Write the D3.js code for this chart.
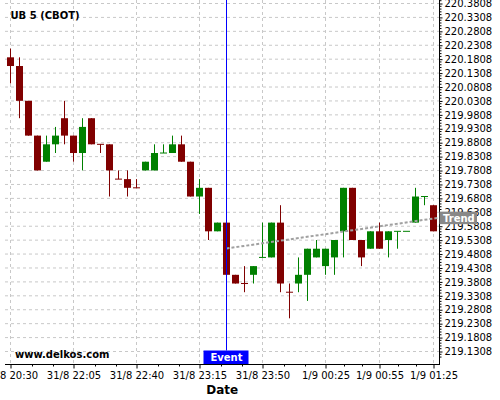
<!DOCTYPE html>
<html><head><meta charset="utf-8">
<script src="https://cdn.jsdelivr.net/npm/d3@7"></script>
<style>body{margin:0;background:#fff}svg{display:block}text{font-family:"DejaVu Sans",sans-serif}</style>
</head><body><svg id="c" width="500" height="400"></svg>
<script>
const times = ["31/8 20:30","31/8 21:35","31/8 21:40","31/8 21:45","31/8 21:50","31/8 21:55","31/8 22:00",
"31/8 22:05","31/8 22:10","31/8 22:15","31/8 22:20","31/8 22:25","31/8 22:30","31/8 22:35",
"31/8 22:40","31/8 22:45","31/8 22:50","31/8 22:55","31/8 23:00","31/8 23:05","31/8 23:10",
"31/8 23:15","31/8 23:20","31/8 23:25","31/8 23:30","31/8 23:35","31/8 23:40","31/8 23:45",
"31/8 23:50","31/8 23:55","1/9 00:00","1/9 00:05","1/9 00:10","1/9 00:15","1/9 00:20",
"1/9 00:25","1/9 00:30","1/9 00:35","1/9 00:40","1/9 00:45","1/9 00:50",
"1/9 00:55","1/9 01:00","1/9 01:05","1/9 01:10","1/9 01:15","1/9 01:20","1/9 01:25"];
const open = [220.1875,220.15625,220.03125,219.90625,219.8125,219.875,219.96875,219.90625,219.84375,219.96875,
219.875,219.875,219.75,219.75,219.71875,219.78125,219.78125,219.84375,219.84375,219.875,
219.8125,219.6875,219.71875,219.5625,219.59375,219.40625,219.375,219.40625,219.46875,219.46875,
219.59375,219.34375,219.375,219.40625,219.46875,219.4375,219.46875,219.5625,219.71875,219.53125,
219.5,219.5625,219.53125,219.5625,219.5625,219.59375,219.6875,219.65625];
const high = [220.21875,220.1875,220.03125,219.90625,219.90625,219.9375,220.03125,219.90625,219.96875,219.96875,
219.875,219.875,219.78125,219.78125,219.75,219.8125,219.875,219.875,219.90625,219.90625,
219.8125,219.75,219.71875,219.59375,219.59375,219.40625,219.4375,219.4375,219.59375,219.59375,
219.65625,219.375,219.46875,219.5,219.53125,219.5,219.53125,219.71875,219.71875,219.53125,
219.5625,219.59375,219.5625,219.5625,219.5625,219.71875,219.6875,219.65625];
const low = [220.09375,219.96875,219.90625,219.78125,219.8125,219.84375,219.875,219.8125,219.78125,219.875,
219.84375,219.6875,219.75,219.6875,219.71875,219.78125,219.78125,219.84375,219.84375,219.8125,
219.6875,219.625,219.53125,219.5625,219.40625,219.375,219.34375,219.375,219.46875,219.46875,
219.34375,219.25,219.34375,219.3125,219.46875,219.40625,219.40625,219.46875,219.53125,219.4375,
219.5,219.5,219.46875,219.5,219.5625,219.59375,219.65625,219.5625];
const close = [220.15625,220.03125,219.90625,219.78125,219.875,219.90625,219.90625,219.84375,219.9375,219.875,
219.875,219.78125,219.75,219.71875,219.71875,219.8125,219.84375,219.84375,219.875,219.8125,
219.6875,219.71875,219.5625,219.59375,219.40625,219.375,219.375,219.4375,219.46875,219.59375,
219.375,219.34375,219.40625,219.5,219.5,219.5,219.53125,219.71875,219.53125,219.46875,
219.5625,219.5,219.5625,219.5625,219.5625,219.6875,219.6875,219.5625];
const direction = ["d","d","d","d","u","u","d","d","u","d","d","d","d","d","d","u","u","u","u","d",
"d","u","d","u","d","d","d","u","u","u","d","d","u","u","u","u","u","u","d","d",
"u","d","u","u","u","u","u","d"];
const xTickLabels = ["31/8 20:30","31/8 22:05","31/8 22:40","31/8 23:15","31/8 23:50","1/9 00:25","1/9 00:55","1/9 01:25"];
const yTickValues = [219.1308,219.1808,219.2308,219.2808,219.3308,219.3808,219.4308,219.4808,219.5308,219.5808,
219.6308,219.6808,219.7308,219.7808,219.8308,219.8808,219.9308,219.9808,220.0308,220.0808,
220.1308,220.1808,220.2308,220.2808,220.3308,220.3808];
const eventTime = "31/8 23:30";
const trendTimes = ["31/8 23:30","1/9 01:25"];
const trendValues = [219.5008, 219.6085];
const titleText = "UB 5 (CBOT)";

const L = 5, R = 439.5, T = 0, B = 364;
const svg = d3.select("#c");
const x = d3.scalePoint().domain(times).range([10.5, 433.5]);
const y = d3.scaleLinear().domain([219.1308, 220.3808]).range([351.5, 3.5]);
const UP = "#008000", DOWN = "#800000";

// grid
const g = svg.append("g");
g.selectAll(".hg").data(yTickValues).enter().append("line")
  .attr("x1", L).attr("x2", R).attr("y1", d => y(d)).attr("y2", d => y(d))
  .attr("stroke", "#c8c8c8").attr("stroke-dasharray", "3,3");
g.selectAll(".vg").data(xTickLabels).enter().append("line")
  .attr("x1", d => x(d)).attr("x2", d => x(d)).attr("y1", T).attr("y2", B)
  .attr("stroke", "#c8c8c8").attr("stroke-dasharray", "3,3");

// candles
const data = times.map((t, i) => ({t, o: open[i], h: high[i], l: low[i], c: close[i], up: direction[i] === "u"}));
const cg = svg.append("g");
cg.selectAll(".wick").data(data).enter().append("line")
  .attr("x1", d => x(d.t)).attr("x2", d => x(d.t))
  .attr("y1", d => y(d.h)).attr("y2", d => y(d.l))
  .attr("stroke", d => d.up ? UP : DOWN).attr("stroke-width", 1);
cg.selectAll(".body").data(data).enter().append("rect")
  .attr("x", d => x(d.t) - 3.5).attr("width", 7)
  .attr("y", d => d.o === d.c ? y(d.o) - 0.5 : y(Math.max(d.o, d.c)))
  .attr("height", d => Math.max(1, Math.abs(y(d.o) - y(d.c))))
  .attr("fill", d => d.up ? UP : DOWN);

// trend
const x0 = x(trendTimes[0]), x1 = x(trendTimes[1]);
const y0 = y(trendValues[0]), y1 = y(trendValues[1]);
const slope = (y1 - y0) / (x1 - x0);
const yEnd = y1 + slope * (R - x1);
svg.append("line").attr("x1", x0).attr("y1", y0).attr("x2", R).attr("y2", yEnd)
  .attr("stroke", "#a0a0a0").attr("stroke-width", 2).attr("stroke-dasharray", "3,2");

// event
const ex = x(eventTime);
svg.append("line").attr("x1", ex).attr("x2", ex).attr("y1", T).attr("y2", 350.5)
  .attr("stroke", "#0000ff").attr("stroke-width", 1);

// axes
const ax = svg.append("g").attr("transform", `translate(0,${B + 0.5})`)
  .call(d3.axisBottom(x).tickValues(xTickLabels).tickSize(4).tickPadding(3.4));
ax.select(".domain").remove();
ax.selectAll("text").attr("font-size", 10).attr("font-family", "DejaVu Sans").attr("fill", "#000");
ax.selectAll("line").attr("stroke", "#000");
// minor x ticks
const minorX = [];
for (let k = 0; k < xTickLabels.length - 1; k++) {
  const a = x(xTickLabels[k]), b = x(xTickLabels[k + 1]);
  minorX.push(a + (b - a) / 3, a + 2 * (b - a) / 3);
}
svg.selectAll(".mx").data(minorX).enter().append("line")
  .attr("x1", d => Math.round(d) + 0.5).attr("x2", d => Math.round(d) + 0.5)
  .attr("y1", B + 0.5).attr("y2", B + 2.5).attr("stroke", "#000");

const ay = svg.append("g").attr("transform", `translate(${R},0)`)
  .call(d3.axisRight(y).tickValues(yTickValues).tickSize(3).tickPadding(2).tickFormat(d3.format(".4f")));
ay.select(".domain").remove();
ay.selectAll("text").attr("font-size", 10).attr("font-family", "DejaVu Sans").attr("fill", "#000");
ay.selectAll("line").attr("stroke", "#000");
const minorY = [];
for (let k = -2; k < yTickValues.length * 5 + 2; k++) {
  if (k % 5 === 0) continue;
  const v = yTickValues[0] + k * 0.01;
  const py = y(v);
  if (py >= T && py <= B) minorY.push(py);
}
svg.selectAll(".my").data(minorY).enter().append("line")
  .attr("x1", R).attr("x2", R + 2).attr("y1", d => d).attr("y2", d => d).attr("stroke", "#000");

svg.append("line").attr("x1", L).attr("x2", R + 0.5).attr("y1", B + 0.5).attr("y2", B + 0.5).attr("stroke", "#000");
svg.append("line").attr("x1", R).attr("x2", R).attr("y1", T).attr("y2", B + 1).attr("stroke", "#000");

// labels
svg.append("rect").attr("x", ex - 23).attr("y", 350.5).attr("width", 45).attr("height", 13.5).attr("fill", "#0000ff");
svg.append("text").attr("x", ex).attr("y", 361).attr("text-anchor", "middle")
  .attr("font-size", 10).attr("font-weight", "bold").attr("fill", "#fff").text("Event");

svg.append("rect").attr("x", R).attr("y", yEnd - 6).attr("width", 37.5).attr("height", 12.5).attr("fill", "#888");
svg.append("text").attr("x", R + 3.5).attr("y", yEnd + 4).attr("font-size", 10).attr("font-weight", "bold")
  .attr("fill", "#fff").text("Trend");

svg.append("text").attr("x", 10.5).attr("y", 19).attr("font-size", 10).attr("font-weight", "bold")
  .attr("fill", "#000").text(titleText);
svg.append("text").attr("x", 15).attr("y", 357.5).attr("font-size", 10).attr("font-weight", "bold")
  .attr("fill", "#000").text("www.delkos.com");
svg.append("text").attr("x", (L + R) / 2).attr("y", 394).attr("text-anchor", "middle").attr("font-size", 12)
  .attr("font-weight", "bold").attr("fill", "#000").text("Date");
</script></body></html>
